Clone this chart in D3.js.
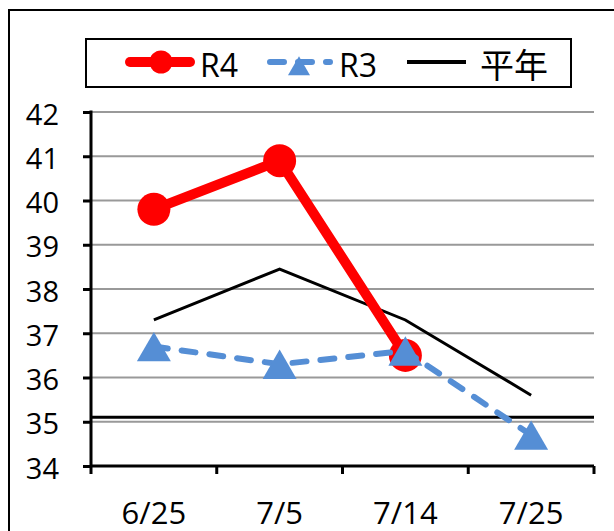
<!DOCTYPE html>
<html>
<head>
<meta charset="utf-8">
<script src="https://cdn.jsdelivr.net/npm/d3@7"></script>
<style>
  html, body { margin: 0; padding: 0; background: #fff; }
  svg { display: block; }
  .lbl { font-family: "Open Sans", "Liberation Sans", sans-serif; fill: #000; }
  .leg { font-family: "Liberation Sans Narrow", "Open Sans", sans-serif; fill: #000; }
</style>
</head>
<body>
<svg width="614" height="531"></svg>
<script>
var categories = ['6/25', '7/5', '7/14', '7/25']
var r4 = [39.8, 40.9, 36.5, null]
var r3 = [36.7, 36.3, 36.6, 34.7]
var heinen = [37.3, 38.45, 37.3, 35.6]
var refLine = 35.1
var yTicks = [34, 35, 36, 37, 38, 39, 40, 41, 42]

var svg = d3.select('svg')

// outer frame
svg.append('rect')
  .attr('x', 9).attr('y', 10)
  .attr('width', 640).attr('height', 560)
  .style('fill', 'none').style('stroke', '#000').style('stroke-width', 2)

var x = d3.scaleBand().domain(categories).range([91, 594])
var y = d3.scaleLinear().domain([34, 42]).range([466, 112])

// gridlines
svg.append('g').selectAll('line')
  .data(yTicks.slice(1))
  .enter().append('line')
  .attr('x1', 91).attr('x2', 594)
  .attr('y1', d => y(d)).attr('y2', d => y(d))
  .style('stroke', '#999').style('stroke-width', 2)

// reference line
svg.append('line')
  .attr('x1', 91).attr('x2', 594)
  .attr('y1', y(refLine)).attr('y2', y(refLine))
  .style('stroke', '#000').style('stroke-width', 3)

// y axis
var yAxis = svg.append('g')
  .attr('transform', 'translate(91,0)')
  .call(d3.axisLeft(y).tickValues(yTicks).tickSize(8).tickPadding(24).tickFormat(d3.format('d')))
yAxis.select('.domain').style('stroke-width', 3).attr('d', 'M0,110.5V466')
yAxis.selectAll('.tick line').style('stroke-width', 3)
yAxis.selectAll('text').attr('class', 'lbl').attr('dy', '0.42em').style('font-size', '29px')

// x axis
var xAxis = svg.append('g')
  .attr('transform', 'translate(0,466)')
  .call(d3.axisBottom(x).tickSize(0).tickPadding(36))
xAxis.select('.domain').style('stroke-width', 3).attr('d', 'M91,0H594')
xAxis.selectAll('text').attr('class', 'lbl').style('font-size', '31px')
xAxis.selectAll('.xtick')
  .data(d3.range(categories.length + 1))
  .enter().append('line')
  .attr('x1', i => 91 + i * x.step()).attr('x2', i => 91 + i * x.step())
  .attr('y1', 0).attr('y2', 8)
  .style('stroke', '#000').style('stroke-width', 3)

var cx = d => x(d) + x.bandwidth() / 2

function seriesData (vals) {
  return categories.map((c, i) => ({ c: c, v: vals[i] })).filter(d => d.v != null)
}

var line = d3.line().x(d => cx(d.c)).y(d => y(d.v))

// 平年
svg.append('path')
  .datum(seriesData(heinen))
  .attr('d', line)
  .style('fill', 'none').style('stroke', '#000').style('stroke-width', 3)

// R4
svg.append('path')
  .datum(seriesData(r4))
  .attr('d', line)
  .style('fill', 'none').style('stroke', '#ff0000').style('stroke-width', 10)
  .style('stroke-linejoin', 'round')
svg.append('g').selectAll('circle')
  .data(seriesData(r4))
  .enter().append('circle')
  .attr('cx', d => cx(d.c)).attr('cy', d => y(d.v)).attr('r', 16.5)
  .style('fill', '#ff0000')

// R3
var tri = d3.symbol().type(d3.symbolTriangle).size(500)
svg.append('path')
  .datum(seriesData(r3))
  .attr('d', line)
  .style('fill', 'none').style('stroke', '#558ed5').style('stroke-width', 6)
  .style('stroke-dasharray', '14,14').style('stroke-linecap', 'round')
svg.append('g').selectAll('path')
  .data(seriesData(r3))
  .enter().append('path')
  .attr('d', tri)
  .attr('transform', d => `translate(${cx(d.c)},${y(d.v) + 5})`)
  .style('fill', '#558ed5')

// legend
var lg = svg.append('g')
lg.append('rect')
  .attr('x', 86).attr('y', 39).attr('width', 485).attr('height', 48)
  .style('fill', '#fff').style('stroke', '#000').style('stroke-width', 2)

lg.append('line').attr('x1', 130).attr('x2', 190).attr('y1', 62).attr('y2', 62)
  .style('stroke', '#ff0000').style('stroke-width', 10).style('stroke-linecap', 'round')
lg.append('circle').attr('cx', 161).attr('cy', 62).attr('r', 11.5).style('fill', '#ff0000')
lg.append('text').attr('class', 'leg').attr('x', 200).attr('y', 77).text('R4')

lg.append('line').attr('x1', 270).attr('x2', 330).attr('y1', 62).attr('y2', 62)
  .style('stroke', '#558ed5').style('stroke-width', 6)
  .style('stroke-dasharray', '14,14').style('stroke-linecap', 'round')
lg.append('path').attr('d', d3.symbol().type(d3.symbolTriangle).size(210))
  .attr('transform', 'translate(299,69)').style('fill', '#558ed5')
lg.append('text').attr('class', 'leg').attr('x', 339).attr('y', 77).text('R3')

lg.append('line').attr('x1', 407).attr('x2', 466).attr('y1', 62).attr('y2', 62)
  .style('stroke', '#000').style('stroke-width', 4)
lg.append('text').attr('x', 480).attr('y', 78).text('平年')
  .style('font-family', '"Noto Sans CJK JP", sans-serif').style('font-size', '34px')
  .style('fill', '#000')

lg.selectAll('text.leg').style('font-size', '32px')
</script>
</body>
</html>
